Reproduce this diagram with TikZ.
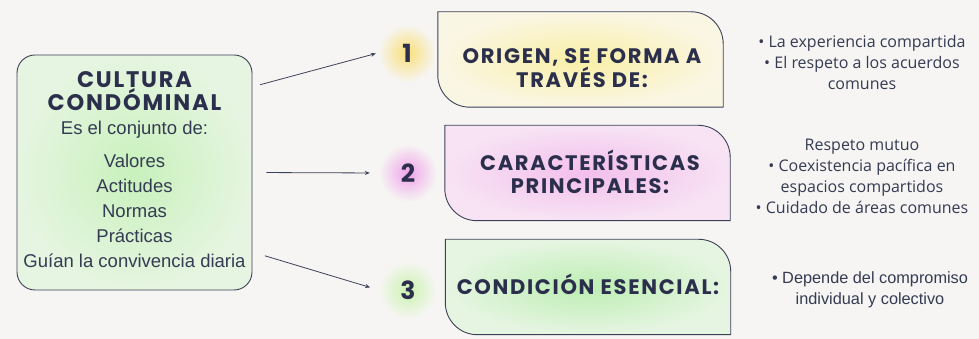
\documentclass[tikz,border=0pt]{standalone}
\usepackage{fontspec}
\setmainfont{Liberation Sans}
\newfontfamily\titfont{Poppins}[LetterSpace=8]
\newfontfamily\numfont{Poppins}
\newfontfamily\listfont{Open Sans}
\usetikzlibrary{arrows.meta,backgrounds}
\definecolor{fondo}{HTML}{F6F5F3}
\definecolor{borde}{HTML}{3D4157}
\definecolor{tinta}{HTML}{2B2F4C}
\definecolor{texto}{HTML}{353B52}
\definecolor{verdeC}{HTML}{C8F1BC}
\definecolor{verdeO}{HTML}{E6F5E1}
\definecolor{amaC}{HTML}{F9EFA6}
\definecolor{amaO}{HTML}{FAF6E4}
\definecolor{rosaC}{HTML}{F3BEEC}
\definecolor{rosaO}{HTML}{F7E3F4}
\definecolor{menC}{HTML}{BDEEB3}
\definecolor{menO}{HTML}{E6F5E2}
\definecolor{brilloA}{HTML}{FADF78}
\definecolor{brilloB}{HTML}{EFA2EA}
\definecolor{brilloC}{HTML}{CBF3AE}
\newcommand{\grande}{\color{tinta}\titfont\bfseries\fontsize{22.5}{23}\selectfont}
\tikzset{
    titulo/.style={font=\titfont\bfseries\fontsize{21}{22.5}\selectfont, text=tinta, align=center, inner sep=1pt},
    cuerpo/.style={font=\fontsize{18.5}{25}\selectfont, text=texto, align=center, inner sep=1pt},
    lista/.style={font=\listfont\fontsize{16}{21}\selectfont, text=texto, align=center},
    numero/.style={circle, outer color=fondo, minimum size=58pt, inner sep=0pt, text=tinta, font=\numfont\bfseries\fontsize{25}{25}\selectfont},
    flecha/.style={draw=borde, line width=0.8pt, -{Stealth[length=5pt,width=4pt]}},
    tarjeta/.style={draw=borde, line width=0.9pt},
    hueco/.style={minimum width=285pt, minimum height=95pt, inner sep=0pt}
}
\begin{document}
\begin{tikzpicture}[x=1pt,y=1pt]
    \useasboundingbox (0,0) rectangle (979,339);

    % caja principal
    \node[tarjeta, rounded corners=18pt, inner color=verdeC, outer color=verdeO, minimum width=235pt, minimum height=235pt] (cult) at (134.5,166.5) {};
    \node[cuerpo] (ctxt) at (134.5,169.5) {{\grande CULTURA}\\[-2pt] {\grande CONDÓMINAL}\\[-1pt] Es el conjunto de:\\[8pt] Valores\\ Actitudes\\ Normas\\ Prácticas\\ Guían la convivencia diaria};

    % numeros con brillo
    \node[numero, inner color=brilloA] (n1) at (407,286) {1};
    \node[numero, inner color=brilloB] (n2) at (408,166) {2};
    \node[numero, inner color=brilloC] (n3) at (408,49) {3};

    \draw[flecha, shorten <=8pt, shorten >=2pt] (cult.36) -- (n1.west);
    \draw[flecha, shorten <=14pt, shorten >=9pt] (cult.east) -- (n2.west);
    \draw[flecha, shorten <=13pt, shorten >=9pt] (cult.-34) -- (n3.west);

    % tarjetas
    \node[hueco] (h1) at (580.5,279.5) {};
    \node[hueco] (h2) at (587.5,166) {};
    \node[hueco] (h3) at (588,52) {};
    \begin{scope}[on background layer]
        \fill[fondo] (0,0) rectangle (979,339);
        \shade[tarjeta, inner color=amaC, outer color=amaO] (h1.north west) -- ([xshift=-32pt]h1.north east) arc[start angle=90, end angle=0, radius=32pt] -- (h1.south east) -- ([xshift=32pt]h1.south west) arc[start angle=270, end angle=180, radius=32pt] -- cycle;
        \shade[tarjeta, inner color=rosaC, outer color=rosaO] (h2.north west) -- ([xshift=-32pt]h2.north east) arc[start angle=90, end angle=0, radius=32pt] -- (h2.south east) -- ([xshift=32pt]h2.south west) arc[start angle=270, end angle=180, radius=32pt] -- cycle;
        \shade[tarjeta, inner color=menC, outer color=menO] (h3.north west) -- ([xshift=-32pt]h3.north east) arc[start angle=90, end angle=0, radius=32pt] -- (h3.south east) -- ([xshift=32pt]h3.south west) arc[start angle=270, end angle=180, radius=32pt] -- cycle;
    \end{scope}
    \node[titulo] (t1) at (582,271) {ORIGEN, SE FORMA A\\TRAVÉS DE:};
    \node[titulo] (t2) at (590,167) {CARACTERÍSTICAS\\PRINCIPALES:};
    \node[titulo] (t3) at (588,55) {CONDICIÓN ESENCIAL:};

    % listas
    \node[lista] (r1) at (862,276) {• La experiencia compartida\\• El respeto a los acuerdos\\comunes};
    \node[lista] (r2) at (862,162.5) {Respeto mutuo\\• Coexistencia pacífica en\\espacios compartidos\\• Cuidado de áreas comunes};
    \node[lista, font=\fontsize{16.3}{21}\selectfont] (r3) at (870,49) {• Depende del compromiso\\individual y colectivo};
\end{tikzpicture}
\end{document}
